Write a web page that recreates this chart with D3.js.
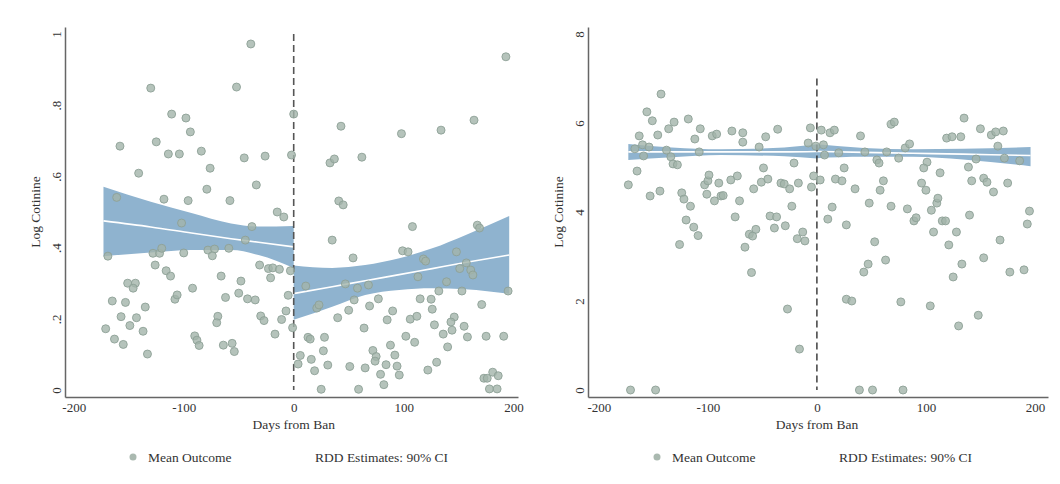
<!DOCTYPE html>
<html>
<head>
<meta charset="utf-8">
<script src="https://cdn.jsdelivr.net/npm/d3@7"></script>
<style>
  body { margin: 0; background: #fff; }
  svg text { font-family: "Liberation Serif", "Times New Roman", serif; fill: #333; }
</style>
</head>
<body>
<script>
// ---- data: left panel (log cotinine, 0-1 scale) ----
var leftDays = [-39,-130,-52,0,-111,-98,-94,-158,-125,-114,-104,-84,-45,-26,-2,-141,-76,-79,-34,-161,-118,-96,-58,-15,-9,
  -102,-38,-44,-169,-128,-122,-120,-100,-78,-72,-74,-59,-126,-116,-112,-66,-48,-31,-23,-19,-13,-21,-3,-151,-144,-146,-92,
  -165,-153,-108,-106,-62,-50,-42,-35,-5,-135,-157,-143,-149,-171,-137,-163,-155,-133,-69,-70,-90,-88,-86,-64,-56,-54,
  -30,-27,-11,-7,-17,-1,
  193,43,98,134,164,33,37,62,41,45,108,35,99,104,54,148,167,169,118,120,157,151,161,163,113,139,132,153,195,11,47,58,68,
  55,77,69,50,21,23,40,115,125,126,90,85,106,112,128,146,143,144,155,136,171,158,175,191,140,102,110,64,13,15,28,27,88,
  72,92,75,74,6,16,4,31,19,51,65,84,94,79,96,82,122,130,25,59,173,176,181,186,178,185];
var leftOutcome = [0.972,0.848,0.851,0.775,0.775,0.764,0.725,0.685,0.697,0.663,0.663,0.671,0.652,0.657,0.660,0.609,0.623,
  0.564,0.576,0.541,0.536,0.532,0.532,0.500,0.486,0.469,0.459,0.421,0.376,0.384,0.384,0.398,0.385,0.393,0.396,0.377,0.398,
  0.351,0.335,0.320,0.320,0.306,0.351,0.341,0.343,0.339,0.315,0.335,0.300,0.300,0.286,0.286,0.250,0.246,0.255,0.267,0.260,
  0.272,0.256,0.253,0.266,0.233,0.206,0.203,0.181,0.172,0.165,0.143,0.128,0.101,0.207,0.189,0.152,0.140,0.125,0.126,0.131,
  0.108,0.208,0.195,0.198,0.222,0.157,0.175,
  0.936,0.741,0.720,0.730,0.758,0.638,0.649,0.654,0.531,0.520,0.459,0.421,0.391,0.388,0.371,0.388,0.463,0.455,0.368,0.362,
  0.357,0.341,0.337,0.323,0.318,0.304,0.278,0.278,0.278,0.292,0.298,0.286,0.295,0.253,0.256,0.236,0.224,0.230,0.239,0.203,
  0.256,0.255,0.227,0.222,0.197,0.199,0.207,0.183,0.205,0.191,0.168,0.179,0.157,0.240,0.149,0.151,0.151,0.121,0.151,0.134,
  0.174,0.148,0.143,0.148,0.110,0.126,0.111,0.098,0.094,0.081,0.097,0.086,0.073,0.070,0.054,0.066,0.062,0.071,0.067,0.044,
  0.042,0.015,0.056,0.078,0.002,0.002,0.033,0.033,0.050,0.040,0.003,0.003];

// RDD fits and 90% CI, left panel
var leftPreDays  = [-173, -130, -93, -57, -32, 0];
var leftPreFit   = [0.475, 0.458, 0.441, 0.425, 0.415, 0.402];
var leftPreLo    = [0.376, 0.386, 0.393, 0.393, 0.379, 0.343];
var leftPreHi    = [0.571, 0.529, 0.497, 0.468, 0.459, 0.461];
var leftPostDays = [0, 35, 65, 96, 126, 156, 196];
var leftPostFit  = [0.271, 0.290, 0.307, 0.324, 0.341, 0.358, 0.379];
var leftPostLo   = [0.197, 0.234, 0.267, 0.281, 0.286, 0.283, 0.270];
var leftPostHi   = [0.350, 0.343, 0.351, 0.370, 0.398, 0.435, 0.489];

// ---- data: right panel (log cotinine, 0-8 scale) ----
var rightDays = [-143,-156,-151,-136,-131,-118,-107,-112,-163,-146,-96,-92,-78,-68,-68,-47,-36,-167,-160,-154,-159,-138,
  -134,-132,-128,-108,-53,-21,-165,-173,-153,-144,-124,-122,-116,-103,-100,-99,-101,-94,-90,-88,-86,-79,-73,-71,-58,-51,
  -45,-49,-33,-30,-25,-17,-23,-75,-43,-37,-120,-113,-109,-126,-62,-59,-56,-66,-39,-29,-18,-60,-27,-16,-171,-148,-6,-8,-1,
  -3,-5,-13,-11,
  135,68,71,4,12,16,40,150,160,164,171,119,124,132,6,7,20,44,64,81,85,75,55,57,101,98,25,166,172,146,139,186,113,3,17,23,
  35,61,58,96,100,142,153,156,162,175,14,48,68,83,110,111,105,140,195,10,27,89,91,115,118,193,107,128,53,121,168,63,47,43,
  133,153,125,177,190,27,32,77,104,148,130,39,51,79];
var rightOutcome = [6.65,6.25,6.05,5.87,6.02,6.09,5.87,5.64,5.71,5.73,5.71,5.75,5.82,5.78,5.57,5.69,5.86,5.42,5.51,5.46,
  5.26,5.39,5.24,5.08,5.06,5.35,5.46,5.10,4.92,4.61,4.36,4.47,4.43,4.29,4.13,4.61,4.70,4.83,4.40,4.25,4.65,4.36,4.37,4.72,
  4.81,4.25,4.52,4.67,4.74,4.99,4.65,4.63,4.52,4.65,4.13,3.89,3.91,3.89,3.82,3.66,3.47,3.27,3.50,3.46,3.61,3.21,3.64,3.69,
  3.40,2.64,1.82,0.92,0,0,5.89,5.55,5.48,4.81,4.56,3.55,3.35,
  6.11,5.97,6.02,5.84,5.78,5.84,5.71,5.87,5.73,5.80,5.82,5.66,5.69,5.69,5.51,5.28,5.33,5.35,5.35,5.44,5.53,5.21,5.17,5.10,
  5.12,4.99,4.99,5.48,5.21,5.19,5.01,5.15,4.88,4.72,4.74,4.70,4.52,4.70,4.49,4.65,4.49,4.70,4.76,4.67,4.45,4.65,4.11,4.20,
  4.13,4.07,4.20,4.31,4.04,3.93,4.02,3.84,3.71,3.80,3.87,3.80,3.80,3.73,3.55,3.55,3.33,3.26,3.37,2.92,2.83,2.65,2.83,2.97,
  2.54,2.65,2.70,2.04,2.00,1.98,1.89,1.68,1.44,0,0,0];

var rightPreDays  = [-173, -133, -88, -30, 0];
var rightPreFit   = [5.35, 5.35, 5.35, 5.35, 5.36];
var rightPreLo    = [5.17, 5.23, 5.28, 5.25, 5.20];
var rightPreHi    = [5.53, 5.45, 5.41, 5.45, 5.52];
var rightPostDays = [0, 43, 88, 134, 196];
var rightPostFit  = [5.36, 5.34, 5.32, 5.30, 5.27];
var rightPostLo   = [5.21, 5.24, 5.24, 5.18, 5.03];
var rightPostHi   = [5.52, 5.44, 5.41, 5.42, 5.46];

// ---- axis ticks ----
var xTicks = [-200, -100, 0, 100, 200];
var xTickLabels = ["-200", "-100", "0", "100", "200"];
var leftYTicks = [0, 0.2, 0.4, 0.6, 0.8, 1];
var leftYTickLabels = ["0", ".2", ".4", ".6", ".8", "1"];
var rightYTicks = [0, 2, 4, 6, 8];
var rightYTickLabels = ["0", "2", "4", "6", "8"];
var xTitle = "Days from Ban";
var yTitle = "Log Cotinine";
var legendLabels = ["Mean Outcome", "RDD Estimates: 90% CI"];

var svg;

main();

function main() {
  appendSvg("body");
  drawPanel({
    left: 65, right: 518, xDomain: [-208, 204],
    top: 27, bottom: 397, yDomain: [-0.0197, 1.0197],
    yTicks: leftYTicks, yTickLabels: leftYTickLabels,
    days: leftDays, outcome: leftOutcome,
    pre: zipBand(leftPreDays, leftPreFit, leftPreLo, leftPreHi),
    post: zipBand(leftPostDays, leftPostFit, leftPostLo, leftPostHi),
    cutTop: 1, dashColor: "#555", dashWidth: 1.6,
    legendX: 133
  });
  drawPanel({
    left: 588, right: 1048, xDomain: [-210, 212],
    top: 27, bottom: 397, yDomain: [-0.157, 8.157],
    yTicks: rightYTicks, yTickLabels: rightYTickLabels,
    days: rightDays, outcome: rightOutcome,
    pre: zipBand(rightPreDays, rightPreFit, rightPreLo, rightPreHi),
    post: zipBand(rightPostDays, rightPostFit, rightPostLo, rightPostHi),
    cutTop: 7, dashColor: "#222", dashWidth: 1.3,
    legendX: 657
  });
}

function appendSvg(domElement) {
  svg = d3.select(domElement).append("svg")
    .attr("width", 1060)
    .attr("height", 484);
  svg.append("rect").attr("width", 1060).attr("height", 484).attr("fill", "#fff");
}

function zipBand(days, fit, lo, hi) {
  return days.map(function (d, i) { return { day: d, fit: fit[i], lo: lo[i], hi: hi[i] }; });
}

function drawPanel(p) {
  var x = d3.scaleLinear().domain(p.xDomain).range([p.left, p.right]);
  var y = d3.scaleLinear().domain(p.yDomain).range([p.bottom, p.top]);
  var g = svg.append("g");

  // CI bands with fitted line
  var area = d3.area()
    .x(function (d) { return x(d.day); })
    .y0(function (d) { return y(d.lo); })
    .y1(function (d) { return y(d.hi); })
    .curve(d3.curveMonotoneX);
  var line = d3.line()
    .x(function (d) { return x(d.day); })
    .y(function (d) { return y(d.fit); })
    .curve(d3.curveMonotoneX);
  [p.pre, p.post].forEach(function (seg) {
    g.append("path").datum(seg).attr("d", area).attr("fill", "#8fb3cf");
    g.append("path").datum(seg).attr("d", line)
      .attr("fill", "none").attr("stroke", "#fff").attr("stroke-width", 1.6);
  });

  // cutoff line
  g.append("line")
    .attr("x1", x(0)).attr("x2", x(0))
    .attr("y1", y(p.cutTop)).attr("y2", y(0))
    .attr("stroke", p.dashColor).attr("stroke-width", p.dashWidth)
    .attr("stroke-dasharray", "7,4");

  // mean outcome markers
  g.selectAll("circle.pt")
    .data(p.days.map(function (d, i) { return [d, p.outcome[i]]; }))
    .enter().append("circle")
    .attr("class", "pt")
    .attr("cx", function (d) { return x(d[0]); })
    .attr("cy", function (d) { return y(d[1]); })
    .attr("r", 4)
    .attr("fill", "#a2b4aa")
    .attr("fill-opacity", 0.8)
    .attr("stroke", "#8ea197")
    .attr("stroke-opacity", 0.9)
    .attr("stroke-width", 1);

  // axes
  var xAxis = g.append("g")
    .attr("transform", "translate(0," + p.bottom + ")")
    .call(d3.axisBottom(x).tickValues(xTicks).tickSize(0).tickSizeOuter(0).tickPadding(6)
      .tickFormat(function (d, i) { return xTickLabels[i]; }));
  xAxis.select(".domain").attr("stroke", "#666").attr("stroke-width", 1.5);
  xAxis.selectAll("text").style("font-size", "13px").attr("fill", "#333")
    .style("font-family", "'Liberation Serif', serif");

  var yAxis = g.append("g")
    .attr("transform", "translate(" + p.left + ",0)")
    .call(d3.axisLeft(y).tickValues(p.yTicks).tickSize(0).tickSizeOuter(0)
      .tickFormat(function (d, i) { return p.yTickLabels[i]; }));
  yAxis.select(".domain").attr("stroke", "#666").attr("stroke-width", 1.5);
  yAxis.selectAll("text")
    .attr("x", 0).attr("y", -4).attr("dy", null)
    .attr("text-anchor", "middle")
    .attr("transform", "rotate(-90)")
    .style("font-size", "13px").attr("fill", "#333")
    .style("font-family", "'Liberation Serif', serif");

  // titles
  g.append("text")
    .attr("x", x(0)).attr("y", 429)
    .attr("text-anchor", "middle")
    .style("font-size", "13.5px")
    .text(xTitle);
  g.append("text")
    .attr("transform", "translate(" + (p.left - 25) + "," + ((p.top + p.bottom) / 2) + ") rotate(-90)")
    .attr("text-anchor", "middle")
    .style("font-size", "13.5px")
    .text(yTitle);

  // legend
  g.append("circle")
    .attr("cx", p.legendX).attr("cy", 457).attr("r", 3.5)
    .attr("fill", "#aab9b0");
  g.append("text")
    .attr("x", p.legendX + 15).attr("y", 461.5)
    .style("font-size", "13.5px")
    .text(legendLabels[0]);
  g.append("text")
    .attr("x", p.legendX + 182).attr("y", 461.5)
    .style("font-size", "13.5px")
    .text(legendLabels[1]);
}
</script>
</body>
</html>
